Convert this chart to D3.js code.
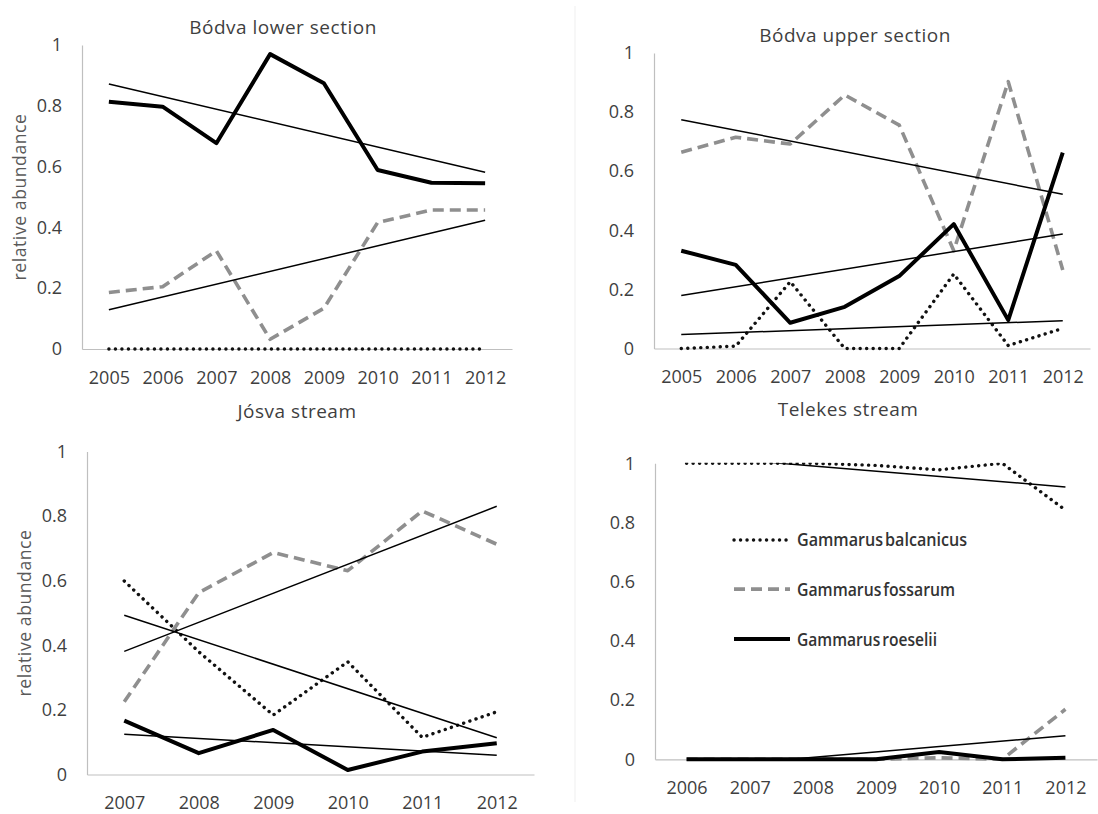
<!DOCTYPE html>
<html>
<head>
<meta charset="utf-8">
<script src="https://cdn.jsdelivr.net/npm/d3@7"></script>
<style>
  html, body { margin: 0; background: #ffffff; }
  svg { display: block; }
</style>
</head>
<body>
<svg id="chart" width="1098" height="814"></svg>
<script>
// ---- data: relative abundance of three Gammarus species per year ----
const yearsBodva   = ["2005", "2006", "2007", "2008", "2009", "2010", "2011", "2012"];
const yearsJosva   = ["2007", "2008", "2009", "2010", "2011", "2012"];
const yearsTelekes = ["2006", "2007", "2008", "2009", "2010", "2011", "2012"];

const yTickValues = [0, 0.2, 0.4, 0.6, 0.8, 1];
const yTickLabels = ["0", "0.2", "0.4", "0.6", "0.8", "1"];

const speciesNames = ["Gammarus balcanicus", "Gammarus fossarum", "Gammarus roeselii"];

// Bódva lower section
const bodvaLowerBalcanicus = [0, 0, 0, 0, 0, 0, 0, 0];
const bodvaLowerFossarum   = [0.186, 0.205, 0.323, 0.032, 0.134, 0.416, 0.457, 0.457];
const bodvaLowerRoeselii   = [0.813, 0.797, 0.677, 0.970, 0.874, 0.589, 0.547, 0.545];

// Bódva upper section
const bodvaUpperBalcanicus = [0, 0.008, 0.226, 0, 0, 0.252, 0.01, 0.068];
const bodvaUpperFossarum   = [0.664, 0.715, 0.692, 0.858, 0.756, 0.331, 0.903, 0.266];
const bodvaUpperRoeselii   = [0.331, 0.283, 0.087, 0.141, 0.245, 0.421, 0.096, 0.663];

// Jósva stream
const josvaBalcanicus = [0.599, 0.38, 0.184, 0.349, 0.115, 0.194];
const josvaFossarum   = [0.225, 0.563, 0.687, 0.631, 0.816, 0.713];
const josvaRoeselii   = [0.167, 0.066, 0.138, 0.014, 0.071, 0.097];

// Telekes stream
const telekesBalcanicus = [1, 1, 1, 0.993, 0.978, 1, 0.842];
const telekesFossarum   = [0, 0, 0, 0, 0.005, 0, 0.169];
const telekesRoeselii   = [0, 0, 0, 0, 0.025, 0, 0.005];

// ---- panel layout ----
const panels = [
  {
    title: "Bódva lower section", years: yearsBodva,
    series: { balcanicus: bodvaLowerBalcanicus, fossarum: bodvaLowerFossarum, roeselii: bodvaLowerRoeselii },
    trends: ["fossarum", "roeselii"],
    box: { left: 82, right: 512, top: 45, bottom: 349 },
    titlePos: [283, 33.5], yLabelX: 26
  },
  {
    title: "Bódva upper section", years: yearsBodva,
    series: { balcanicus: bodvaUpperBalcanicus, fossarum: bodvaUpperFossarum, roeselii: bodvaUpperRoeselii },
    trends: ["balcanicus", "fossarum", "roeselii"],
    box: { left: 654, right: 1090, top: 53, bottom: 348.5 },
    titlePos: [855, 42.3]
  },
  {
    title: "Jósva stream", years: yearsJosva,
    series: { balcanicus: josvaBalcanicus, fossarum: josvaFossarum, roeselii: josvaRoeselii },
    trends: ["balcanicus", "fossarum", "roeselii"],
    box: { left: 87, right: 534, top: 451.5, bottom: 774.5 },
    titlePos: [297, 418], yLabelX: 31
  },
  {
    title: "Telekes stream", years: yearsTelekes,
    series: { balcanicus: telekesBalcanicus, fossarum: telekesFossarum, roeselii: telekesRoeselii },
    trends: ["balcanicus", "fossarum"],
    box: { left: 655, right: 1097, top: 463.3, bottom: 759.3 },
    titlePos: [848, 416.3], legend: true
  }
];

const lineStyles = {
  balcanicus: { stroke: "#111111", width: 3.4, dash: "0.1,6.4", cap: "round" },
  fossarum:   { stroke: "#8f8f8f", width: 3.6, dash: "11,6",    cap: "butt" },
  roeselii:   { stroke: "#000000", width: 4.0, dash: null,      cap: "butt" }
};
const seriesOrder = ["balcanicus", "fossarum", "roeselii"];

const textColor = "#3f3f3f";
const axisColor = "#bfbfbf";
const fontFamily = "'Open Sans', 'DejaVu Sans', sans-serif";

const svg = d3.select("#chart");

// faint divider between the two columns
svg.append("line")
  .attr("x1", 575).attr("x2", 575).attr("y1", 6).attr("y2", 802)
  .attr("stroke", "#efefef").attr("stroke-width", 1);

// least-squares linear fit over the category index
function linearFit(values) {
  const n = values.length;
  const xs = d3.range(n);
  const mx = d3.mean(xs), my = d3.mean(values);
  let sxy = 0, sxx = 0;
  xs.forEach((x, i) => { sxy += (x - mx) * (values[i] - my); sxx += (x - mx) * (x - mx); });
  const slope = sxy / sxx;
  return i => my + slope * (i - mx);
}

panels.forEach((p, pi) => {
  const b = p.box;
  const g = svg.append("g").attr("class", "panel");

  const x = d3.scalePoint().domain(p.years).range([b.left, b.right]).padding(0.5);
  const y = d3.scaleLinear().domain([0, 1]).range([b.bottom, b.top]);

  // clip regions: trend lines stay inside [0,1]; data lines keep their full stroke at the baseline
  const defs = svg.append("defs");
  defs.append("clipPath").attr("id", "trendClip" + pi)
    .append("rect").attr("x", b.left).attr("y", y(1))
    .attr("width", b.right - b.left).attr("height", y(0) - y(1));
  defs.append("clipPath").attr("id", "dataClip" + pi)
    .append("rect").attr("x", b.left).attr("y", y(1) - 0.6)
    .attr("width", b.right - b.left).attr("height", y(0) - y(1) + 6);

  // axes
  const yAxis = d3.axisLeft(y).tickValues(yTickValues)
    .tickFormat((d, i) => yTickLabels[i]).tickSize(0).tickPadding(20);
  const gy = g.append("g").attr("transform", `translate(${b.left},0)`).call(yAxis);

  const xAxis = d3.axisBottom(x).tickSize(0).tickPadding(22);
  const gx = g.append("g").attr("transform", `translate(0,${b.bottom})`).call(xAxis);

  [gx, gy].forEach(ax => {
    ax.select(".domain").attr("stroke", axisColor).attr("stroke-width", 1.2);
    ax.selectAll("text").attr("fill", textColor)
      .style("font-family", fontFamily).style("font-size", "18px");
  });

  // title
  g.append("text").attr("x", p.titlePos[0]).attr("y", p.titlePos[1])
    .attr("text-anchor", "middle").attr("fill", textColor)
    .style("font-family", fontFamily).style("font-size", "19px")
    .style("letter-spacing", "0.5px")
    .text(p.title);

  // y axis title
  if (p.yLabelX !== undefined) {
    const cy = (b.top + b.bottom) / 2;
    g.append("text")
      .attr("transform", `translate(${p.yLabelX},${cy}) rotate(-90)`)
      .attr("text-anchor", "middle").attr("fill", "#595959")
      .style("font-family", fontFamily).style("font-size", "17.5px")
      .style("letter-spacing", "0.6px")
      .text("relative abundance");
  }

  const line = d3.line()
    .x((d, i) => x(p.years[i]))
    .y(d => y(d));

  // data series
  const dataG = g.append("g").attr("clip-path", `url(#dataClip${pi})`);
  seriesOrder.forEach(key => {
    const s = lineStyles[key];
    dataG.append("path")
      .datum(p.series[key])
      .attr("d", line)
      .attr("fill", "none")
      .attr("stroke", s.stroke)
      .attr("stroke-width", s.width)
      .attr("stroke-linecap", s.cap)
      .attr("stroke-linejoin", "round")
      .attr("stroke-dasharray", s.dash);
  });

  // linear trend lines
  const trendG = g.append("g").attr("clip-path", `url(#trendClip${pi})`);
  p.trends.forEach(key => {
    const f = linearFit(p.series[key]);
    const n = p.series[key].length;
    trendG.append("path")
      .datum([f(0), f(n - 1)])
      .attr("d", d3.line()
        .x((d, i) => x(p.years[i === 0 ? 0 : n - 1]))
        .y(d => y(d)))
      .attr("fill", "none")
      .attr("stroke", "#000")
      .attr("stroke-width", 1.5);
  });

  // legend
  if (p.legend) {
    const lx0 = b.left + 79, lx1 = b.left + 135, tx = b.left + 142;
    const rows = [y(0.741), y(0.575), y(0.406)];
    seriesOrder.forEach((key, i) => {
      const s = lineStyles[key];
      g.append("line")
        .attr("x1", lx0).attr("x2", lx1).attr("y1", rows[i]).attr("y2", rows[i])
        .attr("stroke", s.stroke).attr("stroke-width", s.width)
        .attr("stroke-linecap", s.cap).attr("stroke-dasharray", s.dash);
      const t = g.append("text")
        .attr("x", tx).attr("y", rows[i] + 6.5)
        .attr("fill", "#333333")
        .style("font-family", fontFamily).style("font-size", "18.5px")
        .style("font-weight", 600)
        .style("word-spacing", "-2.5px")
        .text(speciesNames[i]);
      const natural = t.node().getComputedTextLength();
      const target = [170, 158, 140][i];
      t.attr("textLength", Math.min(natural, target)).attr("lengthAdjust", "spacingAndGlyphs");
    });
  }
});
</script>
</body>
</html>
